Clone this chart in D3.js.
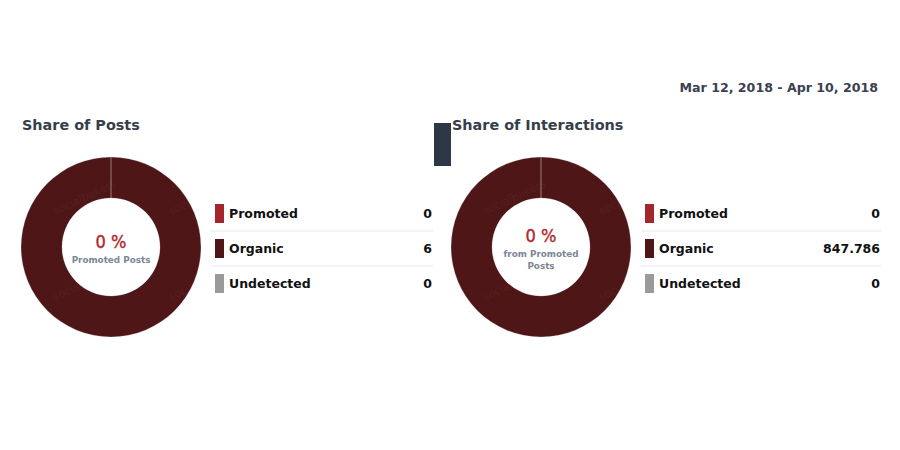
<!DOCTYPE html>
<html>
<head>
<meta charset="utf-8">
<script src="https://cdn.jsdelivr.net/npm/d3@7"></script>
<style>
  body { margin: 0; background: #fff; }
  svg { display: block; font-family: "DejaVu Sans", sans-serif; }
</style>
</head>
<body>
<svg id="chart" width="900" height="450"></svg>
<script>
// legend categories shared by both donuts
var categories = ["Promoted", "Organic", "Undetected"];
var colors = ["#a4262c", "#4e1616", "#9a9a9a"];

var postValues = [0, 6, 0];
var postLabels = ["0", "6", "0"];
var interactionValues = [0, 847786, 0];
var interactionLabels = ["0", "847.786", "0"];

var panelTitles = ["Share of Posts", "Share of Interactions"];
var centerTexts = [["Promoted Posts"], ["from Promoted", "Posts"]];
var dateRange = "Mar 12, 2018 - Apr 10, 2018";

var svg = d3.select("#chart");

svg.append("text")
  .attr("x", 878).attr("y", 92)
  .attr("text-anchor", "end")
  .attr("font-size", 12.6).attr("font-weight", "bold")
  .attr("fill", "#3a4150")
  .text(dateRange);

// the little dark block between the two panels
svg.append("rect")
  .attr("x", 434).attr("y", 123).attr("width", 17).attr("height", 43)
  .attr("fill", "#2e3746");

var panels = [
  { ox: 0, values: postValues, labels: postLabels },
  { ox: 430, values: interactionValues, labels: interactionLabels }
];

var pie = d3.pie().sort(null).value(function(d) { return d; });
var arc = d3.arc().innerRadius(49).outerRadius(90);

panels.forEach(function(p, i) {
  var g = svg.append("g").attr("transform", "translate(" + p.ox + ",0)");

  g.append("text")
    .attr("x", 22).attr("y", 129.5)
    .attr("font-size", 14.4).attr("font-weight", "bold")
    .attr("fill", "#363e4b")
    .text(panelTitles[i]);

  var donut = g.append("g").attr("transform", "translate(111,247)");
  donut.selectAll("path").data(pie(p.values))
    .enter().append("path")
    .attr("d", arc)
    .attr("fill", function(d, j) { return colors[j]; })
    .attr("stroke", "#fff")
    .attr("stroke-opacity", 0.3)
    .attr("stroke-width", 0.8);

  // faint watermark
  [[-56, -32], [60, -32], [-56, 54], [60, 54]].forEach(function(w) {
    donut.append("text")
      .attr("transform", "translate(" + w[0] + "," + w[1] + ") rotate(-25)")
      .attr("font-size", 11)
      .attr("fill", "#fff").attr("fill-opacity", 0.06)
      .text("socialbakers");
  });

  var pct = d3.sum(p.values) ? Math.round(100 * p.values[0] / d3.sum(p.values)) : 0;
  var lines = centerTexts[i];
  var top = lines.length > 1 ? -5 : 1;
  donut.append("text")
    .attr("y", top)
    .attr("text-anchor", "middle")
    .attr("font-family", "'DejaVu Sans Condensed', 'DejaVu Sans', sans-serif")
    .attr("font-size", 18)
    .attr("fill", "#b0282d")
    .attr("stroke", "#b0282d").attr("stroke-width", 0.4)
    .text(pct + " %");
  lines.forEach(function(t, k) {
    donut.append("text")
      .attr("y", top + 15 + k * 12)
      .attr("text-anchor", "middle")
      .attr("font-size", 8.8).attr("font-weight", "bold")
      .attr("fill", "#7c8696")
      .text(t);
  });

  var y = d3.scaleBand().domain(categories).range([196, 301]);
  var leg = g.append("g");
  categories.forEach(function(c, j) {
    var yc = y(c) + y.bandwidth() / 2;
    leg.append("rect")
      .attr("x", 215).attr("y", yc - 9.5)
      .attr("width", 9).attr("height", 19)
      .attr("fill", colors[j]);
    leg.append("text")
      .attr("x", 229).attr("y", yc + 4)
      .attr("font-size", 12.5).attr("font-weight", "bold")
      .attr("fill", "#111")
      .text(c);
    leg.append("text")
      .attr("x", i === 0 ? 432 : 450).attr("y", yc + 4)
      .attr("text-anchor", "end")
      .attr("font-size", 12.5).attr("font-weight", "bold")
      .attr("fill", "#111")
      .text(p.labels[j]);
    if (j > 0) {
      leg.append("line")
        .attr("x1", 211).attr("x2", i === 0 ? 433 : 451)
        .attr("y1", y(c)).attr("y2", y(c))
        .attr("stroke", "#e6e9f2").attr("stroke-width", 1);
    }
  });
});
</script>
</body>
</html>
